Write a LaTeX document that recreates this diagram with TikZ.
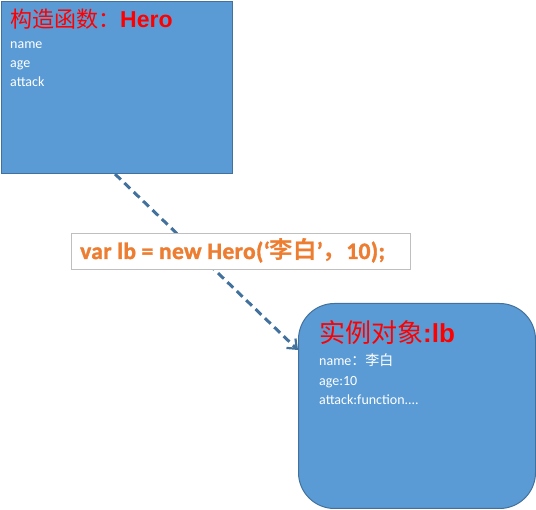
\documentclass[tikz,border=0pt]{standalone}
\usepackage{fontspec}
\setmainfont{Carlito}
\newfontfamily\cjk{Noto Sans CJK SC}
\newfontfamily\cjkbold{Noto Sans CJK SC Bold}
\newfontfamily\codefont{Carlito Bold}[FakeBold=1.5,LetterSpace=1.5]
\usetikzlibrary{arrows.meta}
\definecolor{boxfill}{HTML}{5B9BD5}
\definecolor{boxline}{HTML}{41719C}
\definecolor{codeor}{HTML}{ED7D31}
\definecolor{lblgray}{HTML}{BFBFBF}
\tikzset{
  card/.style={draw=boxline, line width=1pt, fill=boxfill, anchor=north west, inner sep=0pt},
  ttl/.style={text=red, anchor=base west, inner sep=0pt, font=\fontsize{22}{24}\selectfont},
  field/.style={text=white, anchor=base west, inner sep=0pt, font=\fontsize{14}{16}\selectfont},
  codebox/.style={draw=lblgray, line width=1pt, fill=white, anchor=north west, inner sep=0pt},
  code/.style={text=codeor, anchor=base west, inner sep=0pt, font=\codefont\fontsize{23.5}{25}\selectfont},
  link/.style={draw=boxline, line width=3pt, dash pattern=on 8pt off 5pt, -{Straight Barb[length=8pt,width=13pt,line width=2.2pt]}}
}
\begin{document}
\begin{tikzpicture}[x=1pt,y=-1pt]
\useasboundingbox (0,0) rectangle (536,510);
% constructor box
\node[card, minimum width=231pt, minimum height=172pt] (hero) at (1,1) {};
\node[ttl] (herot) at (10,28) {{\cjk 构造函数：}{\fontspec{Liberation Sans}[FakeBold=0]\bfseries\fontsize{23}{25}\selectfont Hero}};
\node[field] (hn) at (10,49) {name};
\node[field] (ha) at (10,68) {age};
\node[field] (hk) at (10,87) {attack};
% instance box
\node[card, rounded corners=36pt, minimum width=237pt, minimum height=205pt] (inst) at (298,303) {};
\node[ttl, font=\fontsize{26}{28}\selectfont] (instt) at (319,343) {{\cjk 实例对象}\textbf{\fontspec{Liberation Sans}:lb}};
\node[field] (in) at (319,366) {name{\cjk ：李白}};
\node[field] (ia) at (319,386) {age:10};
\node[field] (ik) at (319,405) {attack:function....};
% arrow
\coordinate (s) at ([xshift=114pt]hero.south west);
\coordinate (e) at ([yshift=-47pt]inst.north west);
\draw[link] (s) -- (e);
% code label
\node[codebox, minimum width=339pt, minimum height=36pt] (lbl) at (71,233) {};
\node[code] (codet) at (80,259) {var lb = new Hero(‘{\cjkbold 李白}’{\cjkbold ，}10);};
\end{tikzpicture}
\end{document}
